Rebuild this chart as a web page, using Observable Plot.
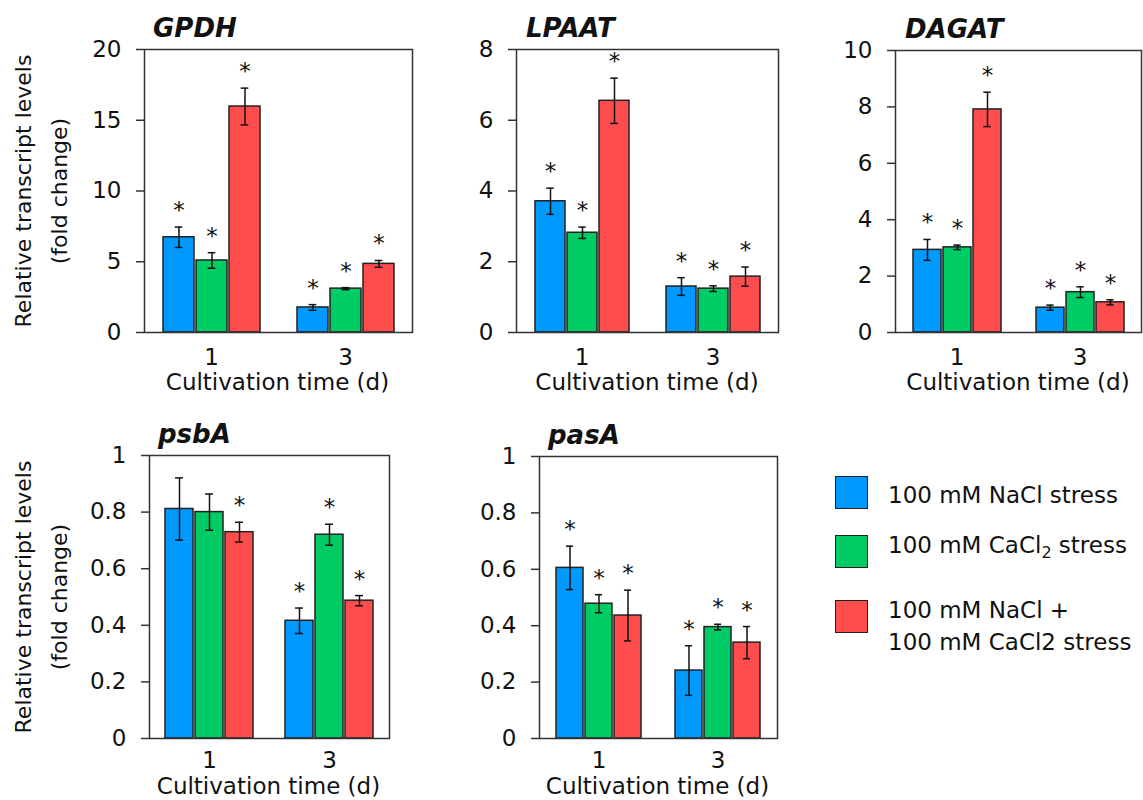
<!DOCTYPE html>
<html>
<head>
<meta charset="utf-8">
<script src="https://cdn.jsdelivr.net/npm/d3@7"></script>
<script src="https://cdn.jsdelivr.net/npm/@observablehq/plot@0.6"></script>
<style>
  html, body { margin: 0; padding: 0; background: #fff; overflow: hidden; }
  #root { position: relative; width: 1143px; height: 800px; overflow: hidden;
          font-family: "DejaVu Sans", sans-serif; color: #111; }
  .abs { position: absolute; white-space: nowrap; }
  .gtitle { font-weight: bold; font-style: italic; font-size: 26px; line-height: 26px; }
  .xtitle { font-size: 23px; line-height: 23px; transform: translateX(-50%); }
  .ytitle { font-size: 22px; line-height: 36px; text-align: center;
            transform: translate(-50%, -50%) rotate(-90deg); }
  .legtext { font-size: 23px; line-height: 32px; }
  .legtext sub { font-size: 16px; line-height: 0; vertical-align: -5px; }
  .swatch { box-sizing: border-box; border: 1.5px solid #222; }
</style>
</head>
<body>
<div id="root"></div>
<script>
// ---------------- data ----------------
const days = ["1", "3"];
const seriesKeys = ["NaCl", "CaCl2", "NaCl+CaCl2"];
const seriesColors = ["#0099ff", "#00cc66", "#ff4d4d"];
const legendLabels = [
  "100 mM NaCl stress",
  "100 mM CaCl<sub>2</sub> stress",
  "100 mM NaCl +<br>100 mM CaCl2 stress"
];
const genes = ["GPDH", "LPAAT", "DAGAT", "psbA", "pasA"];
const yTitleLines = ["Relative transcript levels", "(fold change)"];
const xTitle = "Cultivation time (d)";

// values ordered: day 1 (NaCl, CaCl2, both), day 3 (NaCl, CaCl2, both)
const gpdhMean  = [6.73, 5.09, 15.97, 1.77, 3.10, 4.85];
const gpdhErr   = [0.72, 0.55, 1.30, 0.20, 0.07, 0.24];
const gpdhSig   = [1, 1, 1, 1, 1, 1];
const gpdhTicks = [0, 5, 10, 15, 20];

const lpaatMean  = [3.71, 2.82, 6.55, 1.30, 1.24, 1.58];
const lpaatErr   = [0.37, 0.16, 0.64, 0.25, 0.08, 0.27];
const lpaatSig   = [1, 1, 1, 1, 1, 1];
const lpaatTicks = [0, 2, 4, 6, 8];

const dagatMean  = [2.93, 3.02, 7.91, 0.88, 1.43, 1.07];
const dagatErr   = [0.37, 0.08, 0.61, 0.09, 0.19, 0.09];
const dagatSig   = [1, 1, 1, 1, 1, 1];
const dagatTicks = [0, 2, 4, 6, 8, 10];

const psbaMean  = [0.811, 0.800, 0.729, 0.416, 0.720, 0.487];
const psbaErr   = [0.110, 0.064, 0.035, 0.045, 0.037, 0.018];
const psbaSig   = [0, 0, 1, 1, 1, 1];
const psbaTicks = [0, 0.2, 0.4, 0.6, 0.8, 1];

const pasaMean  = [0.605, 0.478, 0.436, 0.241, 0.395, 0.340];
const pasaErr   = [0.077, 0.032, 0.090, 0.088, 0.010, 0.057];
const pasaSig   = [1, 1, 1, 1, 1, 1];
const pasaTicks = [0, 0.2, 0.4, 0.6, 0.8, 1];

// ---------------- layout (frame boxes in page px) ----------------
const boxes = {
  GPDH:  {l: 143, r: 412,  t: 49,  b: 332, yTitle: true,  tickPad: 16, xBase: 58},
  LPAAT: {l: 516, r: 778,  t: 49,  b: 332, yTitle: false, tickPad: 16, xBase: 58},
  DAGAT: {l: 895, r: 1141, t: 50,  b: 332, yTitle: false, tickPad: 16, xBase: 58},
  psbA:  {l: 148, r: 389,  t: 455, b: 738, yTitle: true,  tickPad: 13, xBase: 56.5},
  pasA:  {l: 538, r: 777,  t: 456, b: 738, yTitle: false, tickPad: 13, xBase: 56.5}
};
const panelData = {
  GPDH:  [gpdhMean, gpdhErr, gpdhSig, gpdhTicks],
  LPAAT: [lpaatMean, lpaatErr, lpaatSig, lpaatTicks],
  DAGAT: [dagatMean, dagatErr, dagatSig, dagatTicks],
  psbA:  [psbaMean, psbaErr, psbaSig, psbaTicks],
  pasA:  [pasaMean, pasaErr, pasaSig, pasaTicks]
};

const root = document.getElementById("root");
function addDiv(cls, html, style) {
  const d = document.createElement("div");
  d.className = "abs " + cls;
  d.innerHTML = html;
  Object.assign(d.style, style);
  root.appendChild(d);
  return d;
}
const fmt = d3.format("~g");

function panel(gene) {
  const [mean, err, sig, ticks] = panelData[gene];
  const box = boxes[gene];
  const rows = [];
  days.forEach((d, i) => seriesKeys.forEach((s, j) => {
    const k = i * seriesKeys.length + j;
    rows.push({day: d, series: s, value: mean[k], lo: mean[k] - err[k], hi: mean[k] + err[k], sig: sig[k]});
  }));
  const mL = 70, mR = 10, mT = 20, mB = 40;
  const W = box.r - box.l, H = box.b - box.t;
  const pix = 0.07, pox = 0.53;
  const facetW = W / days.length;
  const stepX = facetW / (seriesKeys.length - pix + 2 * pox);
  const bw = stepX * (1 - pix);
  const capInset = Math.max(0, (bw - 8) / 2);

  const svg = Plot.plot({
    width: W + mL + mR,
    height: H + mT + mB,
    marginLeft: mL, marginRight: mR, marginTop: mT, marginBottom: mB,
    style: {fontFamily: '"DejaVu Sans", sans-serif', fontSize: "23px", color: "#111",
            background: "transparent", overflow: "visible"},
    fx: {domain: days, padding: 0, label: null},
    x: {domain: seriesKeys, paddingInner: pix, paddingOuter: pox, axis: null},
    y: {domain: [ticks[0], ticks[ticks.length - 1]], label: null},
    color: {domain: seriesKeys, range: seriesColors},
    marks: [
      Plot.barY(rows, {fx: "day", x: "series", y: "value", fill: "series", stroke: "#222", strokeWidth: 1.5}),
      Plot.ruleX(rows, {fx: "day", x: "series", y1: "lo", y2: "hi", stroke: "#111", strokeWidth: 1.5}),
      Plot.tickY(rows, {fx: "day", x: "series", y: "lo", stroke: "#111", strokeWidth: 1.5, insetLeft: capInset, insetRight: capInset}),
      Plot.tickY(rows, {fx: "day", x: "series", y: "hi", stroke: "#111", strokeWidth: 1.5, insetLeft: capInset, insetRight: capInset}),
      Plot.text(rows.filter(d => d.sig), {fx: "day", x: "series", y: "hi", text: () => "*",
        lineAnchor: "bottom", dy: -9, fontSize: 23, fill: "#111"}),
      Plot.frame({facet: "super", stroke: "#333", strokeWidth: 1.5}),
      Plot.axisY({ticks: ticks, tickSize: 8, tickPadding: 15, tickFormat: fmt, label: null,
                  fontSize: 23, stroke: "#333", strokeWidth: 1.5, facetAnchor: "left"}),
      Plot.axisFx({anchor: "bottom", tickSize: 0, tickPadding: box.tickPad, label: null, fontSize: 23})
    ]
  });
  svg.style.position = "absolute";
  svg.style.left = (box.l - mL) + "px";
  svg.style.top = (box.t - mT) + "px";
  root.appendChild(svg);

  // gene title (bold italic), baseline ~12.5px above frame
  addDiv("gtitle", gene, {left: (box.l + 10) + "px", top: (box.t - 12.5 - 0.846 * 26) + "px"});
  // x title
  const xBase = box.b + box.xBase;
  addDiv("xtitle", xTitle, {left: ((box.l + box.r) / 2) + "px", top: (xBase - 0.846 * 23) + "px"});
  // y title
  if (box.yTitle) {
    addDiv("ytitle", yTitleLines.join("<br>"), {left: "42px", top: ((box.t + box.b) / 2) + "px"});
  }
}

genes.forEach(panel);

// legend
const legSwatchTop = [476, 535, 600];
const legTextTop = [479.4, 529.4, 594.4];
seriesKeys.forEach((s, i) => {
  addDiv("swatch", "", {left: "835px", top: legSwatchTop[i] + "px", width: "33px", height: "33px",
                        background: seriesColors[i]});
  addDiv("legtext", legendLabels[i], {left: "888px", top: legTextTop[i] + "px"});
});
</script>
</body>
</html>
